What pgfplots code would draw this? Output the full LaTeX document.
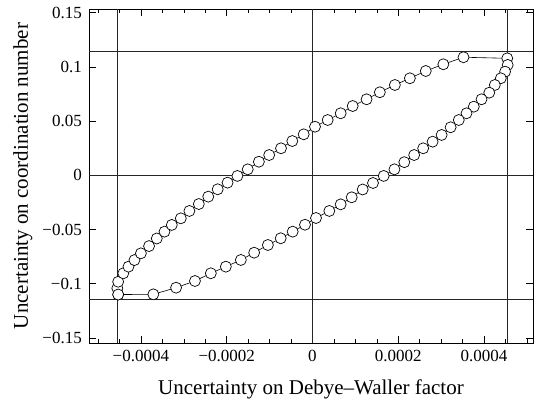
\documentclass[border=0pt]{standalone}
\usepackage{fontspec}
\setmainfont{Liberation Serif}
\usepackage{pgfplots}
\pgfplotsset{compat=1.18}
\begin{document}
\begin{tikzpicture}
\begin{axis}[
  scale only axis,
  width=444pt, height=334pt,
  xmin=-0.000521, xmax=0.000514,
  ymin=-0.1547, ymax=0.1534,
  axis line style={line width=0.9pt},
  tick align=inside,
  major tick length=7pt,
  minor tick length=4pt,
  tick style={black, line width=0.6pt},
  xtick={-0.0004,-0.0002,0,0.0002,0.0004},
  xticklabels={−0.0004,−0.0002,0,0.0002,0.0004},
  minor xtick={-0.0005,-0.00045,-0.00035,-0.0003,-0.00025,-0.00015,-0.0001,-0.00005,0.00005,0.0001,0.00015,0.00025,0.0003,0.00035,0.00045,0.0005},
  ytick={-0.15,-0.1,-0.05,0,0.05,0.1,0.15},
  yticklabels={−0.15,−0.1,−0.05,0,0.05,0.1,0.15},
  scaled x ticks=false, scaled y ticks=false,
  ticklabel style={font=\fontsize{17}{17}\selectfont},
  xticklabel style={anchor=north, inner sep=0pt, yshift=-7pt},
  yticklabel style={anchor=east, inner sep=0pt, xshift=-7pt},
  xlabel={Uncertainty on Debye–Waller factor},
  ylabel={Uncertainty on coordination number},
  label style={font=\fontsize{21}{21}\selectfont},
  xlabel style={at={([yshift=-52pt]axis description cs:0.5,0)}, anchor=base},
  ylabel style={at={([xshift=-61pt]axis description cs:0,0.5)}, anchor=base},
]
% limits of the joint uncertainty region
\draw[black!85, line width=0.6pt] (axis cs:-0.000455,-0.1547) -- (axis cs:-0.000455,0.1534);
\draw[black!85, line width=0.6pt] (axis cs:0.000455,-0.1547) -- (axis cs:0.000455,0.1534);
\draw[black!85, line width=0.6pt] (axis cs:0,-0.1547) -- (axis cs:0,0.1534);
\draw[black!85, line width=0.6pt] (axis cs:-0.000521,0.1145) -- (axis cs:0.000514,0.1145);
\draw[black!85, line width=0.6pt] (axis cs:-0.000521,-0.1145) -- (axis cs:0.000514,-0.1145);
\draw[black!85, line width=0.6pt] (axis cs:-0.000521,0) -- (axis cs:0.000514,0);
% correlated uncertainty contour
\addplot[black, line width=0.6pt, mark=*, mark size=5.5pt,
  mark options={fill=white, draw=black, line width=0.7pt}] coordinates {
(-0.000453,-0.1100)
(-0.000455,-0.1042)
(-0.000453,-0.0982)
(-0.000441,-0.0904)
(-0.000429,-0.0843)
(-0.000415,-0.0782)
(-0.000400,-0.0720)
(-0.000381,-0.0653)
(-0.000363,-0.0583)
(-0.000345,-0.0520)
(-0.000328,-0.0458)
(-0.000307,-0.0397)
(-0.000287,-0.0329)
(-0.000265,-0.0265)
(-0.000243,-0.0197)
(-0.000221,-0.0129)
(-0.000198,-0.0068)
(-0.000175,-0.0006)
(-0.000151,0.0055)
(-0.000125,0.0125)
(-0.000101,0.0187)
(-0.0000734,0.0249)
(-0.0000471,0.0316)
(-0.0000205,0.0378)
(0.0000058,0.0448)
(0.0000354,0.0510)
(0.0000657,0.0572)
(0.0000937,0.0639)
(0.000126,0.0701)
(0.000157,0.0766)
(0.000192,0.0833)
(0.000227,0.0895)
(0.000264,0.0962)
(0.000305,0.1024)
(0.000352,0.1089)
(0.000454,0.1079)
(0.000455,0.1018)
(0.000449,0.0956)
(0.000439,0.0895)
(0.000425,0.0833)
(0.000412,0.0762)
(0.000394,0.0701)
(0.000376,0.0633)
(0.000359,0.0572)
(0.000341,0.0510)
(0.000322,0.0443)
(0.000301,0.0372)
(0.000280,0.0310)
(0.000258,0.0249)
(0.000237,0.0187)
(0.000214,0.0121)
(0.000191,0.0055)
(0.000166,-0.0006)
(0.000141,-0.0071)
(0.000117,-0.0131)
(0.0000914,-0.0203)
(0.0000657,-0.0268)
(0.0000392,-0.0329)
(0.0000082,-0.0394)
(-0.0000175,-0.0456)
(-0.0000462,-0.0520)
(-0.0000741,-0.0581)
(-0.000104,-0.0643)
(-0.000136,-0.0714)
(-0.000167,-0.0781)
(-0.000202,-0.0843)
(-0.000237,-0.0904)
(-0.000274,-0.0975)
(-0.000318,-0.1037)
(-0.000371,-0.1098)
(-0.000453,-0.1100)
};
\end{axis}
\pgfresetboundingbox
\path[use as bounding box] ([shift={(-89pt,-60pt)}]current axis.south west) rectangle ([shift={(1pt,9pt)}]current axis.north east);
\end{tikzpicture}
\end{document}
